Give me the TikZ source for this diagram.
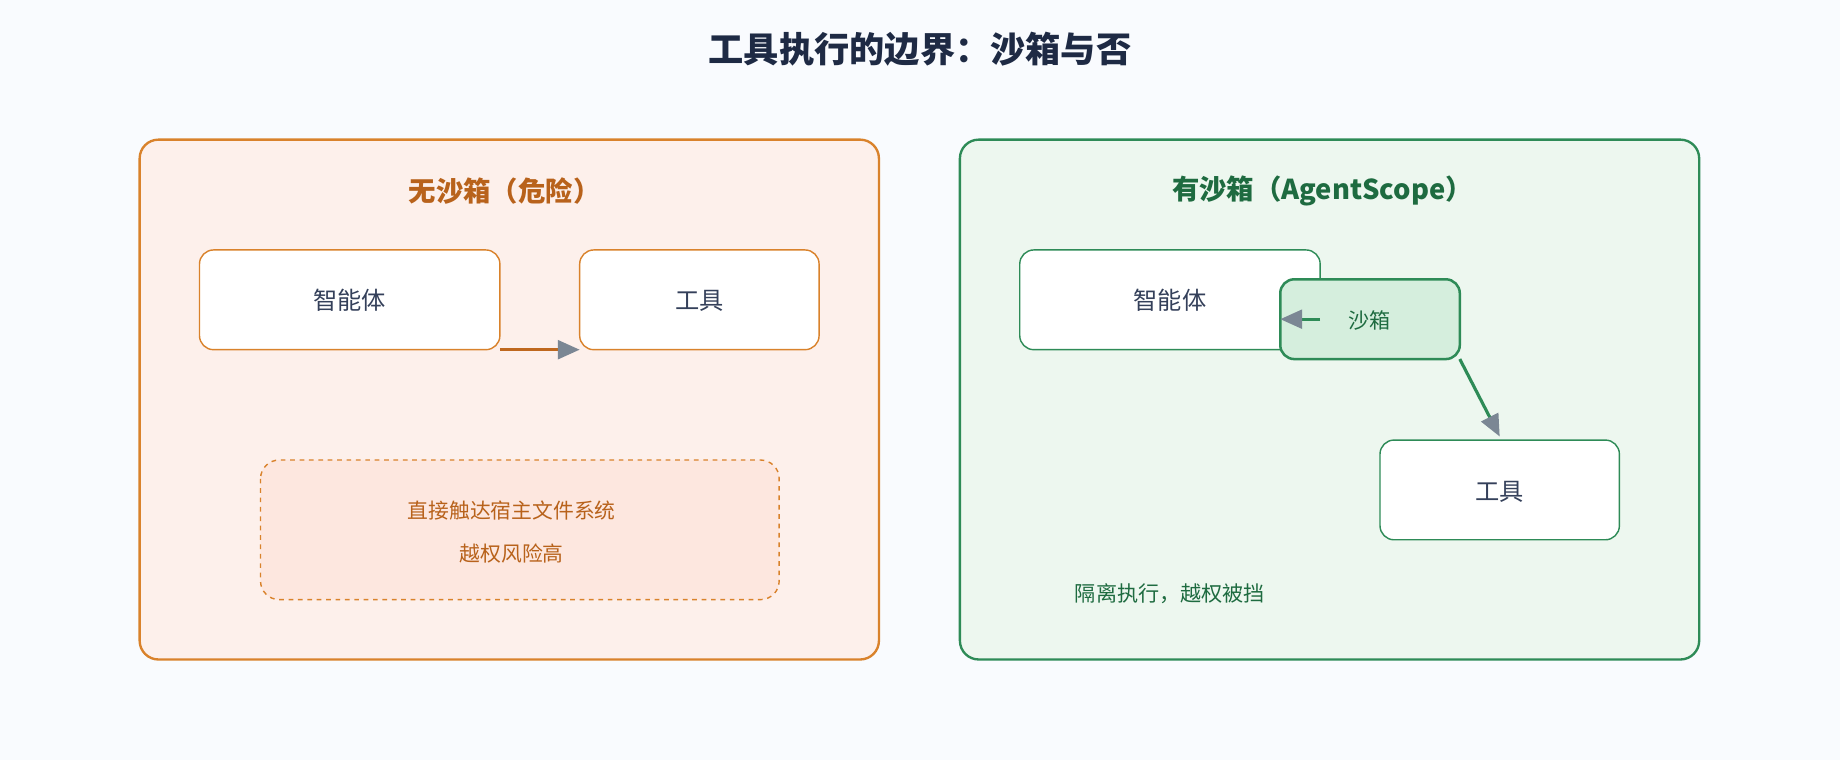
\documentclass[tikz,border=0pt]{standalone}
\usepackage{fontspec}
\setmainfont{Noto Sans CJK SC}
\usetikzlibrary{arrows.meta}
\definecolor{bg}{HTML}{F9FBFE}
\definecolor{navy}{HTML}{1E2A44}
\definecolor{org}{HTML}{D9822B}
\definecolor{orgt}{HTML}{B8621B}
\definecolor{orgbg}{HTML}{FDF0EB}
\definecolor{orgin}{HTML}{FDE7DF}
\definecolor{grn}{HTML}{2E8B57}
\definecolor{grnt}{HTML}{1E6B40}
\definecolor{grnbg}{HTML}{EDF7EF}
\definecolor{grnin}{HTML}{D5EEDD}
\definecolor{tip}{HTML}{7B8794}
\definecolor{txt}{HTML}{34405A}
\begin{document}
\begin{tikzpicture}[x=0.75pt,y=-0.75pt,
  panel/.style={draw,line width=1.5pt,rounded corners=12pt},
  box/.style={draw,line width=0.9pt,rounded corners=9pt,fill=white},
  lbl/.style={font=\fontsize{15.5}{18}\selectfont,text=txt},
  arr/.style={line width=2pt,-{Triangle[color=tip,length=14pt,width=12pt]}}]
\fill[bg] (0,0) rectangle (1568,648);
\node[font=\fontsize{22.5}{26}\selectfont\bfseries,text=navy] (title) at (784,42) {工具执行的边界：沙箱与否};
% left
\draw[panel,draw=org,fill=orgbg] (119,119) rectangle (749,562);
\node[font=\fontsize{17.5}{20}\selectfont\bfseries,text=orgt] (lt) at (430,163) {无沙箱（危险）};
\draw[box,draw=org] (170,213) rectangle (426,298);
\node[lbl] (la) at (298,256) {智能体};
\draw[box,draw=org] (494,213) rectangle (698,298);
\node[lbl] (lb) at (596,256) {工具};
\coordinate (a1) at (426,298); \coordinate (a2) at (494,298);
\draw[arr,draw=orgt!80!org] (a1) -- (a2);
\draw[draw=org,fill=orgin,dashed,line width=0.9pt,rounded corners=12pt] (222,392) rectangle (664,511);
\node[font=\fontsize{13.3}{16}\selectfont,text=orgt] (w1) at (436,435) {直接触达宿主文件系统};
\node[font=\fontsize{13.3}{16}\selectfont,text=orgt] (w2) at (436,472) {越权风险高};
% right
\draw[panel,draw=grn,fill=grnbg] (818,119) rectangle (1448,562);
\node[font=\fontsize{17.5}{20}\selectfont\bfseries,text=grnt] (rt) at (1127,163) {有沙箱（AgentScope）};
\draw[box,draw=grn] (869,213) rectangle (1125,298);
\node[lbl] (ra) at (997,256) {智能体};
\draw[box,draw=grn] (1176,375) rectangle (1380,460);
\node[lbl] (rb) at (1278,419) {工具};
\draw[draw=grn,fill=grnin,line width=1.6pt,rounded corners=9pt] (1091,238) rectangle (1244,306);
\node[font=\fontsize{13.5}{16}\selectfont,text=grnt] (sb) at (1167,273) {沙箱};
\coordinate (b1) at (1125,272); \coordinate (b2) at (1091,272);
\draw[arr,draw=grn] (b1) -- (b2);
\coordinate (c1) at (1244,306); \coordinate (c2) at (1278,372);
\draw[arr,draw=grn] (c1) -- (c2);
\node[font=\fontsize{13.5}{16}\selectfont,text=grnt] (note) at (997,506) {隔离执行，越权被挡};
\end{tikzpicture}
\end{document}
